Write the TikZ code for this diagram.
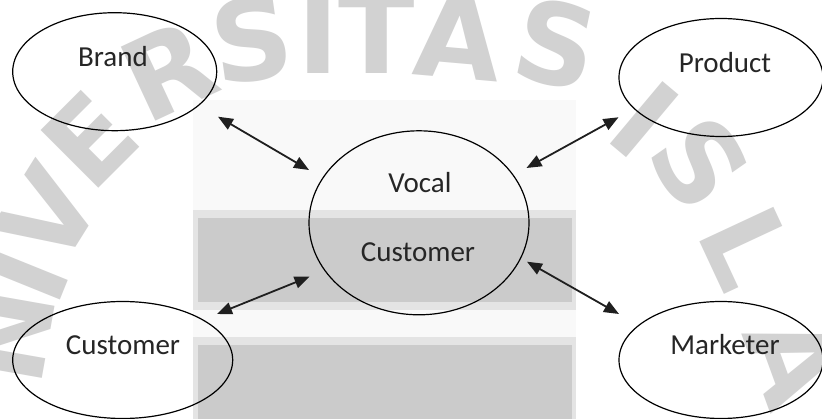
\documentclass[tikz,border=0pt]{standalone}
\usepackage{fontspec}
\setmainfont{Carlito}
\newfontfamily\wmfont{DejaVu Sans}
\usetikzlibrary{shapes.geometric,arrows.meta}
\definecolor{wm}{HTML}{D2D2D2}
\definecolor{bandlight}{HTML}{E4E4E4}
\definecolor{banddark}{HTML}{CBCBCB}
\definecolor{faint}{HTML}{F9F9F9}
\begin{document}
\begin{tikzpicture}[x=1pt,y=-1pt,
  bubble/.style={ellipse,draw=black,line width=1.2pt,inner sep=0pt},
  lbl/.style={font=\fontsize{29}{34}\selectfont,text=black!85,inner sep=0pt},
  link/.style={line width=1.8pt,draw=black!88,{Triangle[length=15pt,width=12pt]}-{Triangle[length=15pt,width=12pt]}},
  wmk/.style={font=\wmfont\bfseries\fontsize{112}{112}\selectfont,text=wm,inner sep=0pt}]
\useasboundingbox (0,0) rectangle (822,419);
\fill[white] (0,0) rectangle (822,419);
\fill[faint] (193,100) rectangle (576,419);
% watermark
\node[wmk,rotate=80] (w1) at (8,335) {N};
\node[wmk,rotate=68] (w2) at (26,275) {I};
\node[wmk,rotate=58] (w3) at (48,215) {V};
\node[wmk,rotate=45] (w4) at (90,140) {E};
\node[wmk,rotate=25] (w5) at (168,70) {R};
\node[wmk,rotate=8] (w6) at (252,40) {S};
\node[wmk] (w7) at (318,33) {I};
\node[wmk] (w8) at (377,33) {T};
\node[wmk,rotate=-5] (w9) at (458,38) {A};
\node[wmk,rotate=-12] (w10) at (556,44) {S};
\node[wmk,rotate=-40] (w11) at (645,120) {I};
\node[wmk,rotate=-55] (w12) at (700,163) {S};
\node[wmk,rotate=-65] (w13) at (748,248) {L};
\node[wmk,rotate=-70] (w14) at (795,360) {A};
% gray bands
\fill[bandlight] (193,210) rectangle (576,310);
\fill[banddark] (198,218) rectangle (572,302);
\fill[bandlight] (193,337) rectangle (576,419);
\fill[banddark] (198,345) rectangle (572,419);
% ellipses
\node[bubble,minimum width=204pt,minimum height=118pt] (brand) at (114.7,71.7) {};
\node[bubble,minimum width=204pt,minimum height=118pt] (product) at (721,77.5) {};
\node[bubble,minimum width=220pt,minimum height=184pt] (vocal) at (419,222.8) {};
\node[bubble,minimum width=220pt,minimum height=117pt] (customer) at (122.7,360) {};
\node[bubble,minimum width=204pt,minimum height=117pt] (marketer) at (721,360) {};
% labels
\node[lbl] (tbrand) at (113,57) {Brand};
\node[lbl] (tproduct) at (725,63) {Product};
\node[lbl] (tvocal) at (420,183) {Vocal};
\node[lbl] (tvcust) at (418,252) {Customer};
\node[lbl] (tcustomer) at (123,345) {Customer};
\node[lbl] (tmarketer) at (725,345) {Marketer};
% arrows
\coordinate (b1) at (218,116.7);
\coordinate (b2) at (309,170);
\coordinate (p1) at (618.5,117.3);
\coordinate (p2) at (526.5,168);
\coordinate (c1) at (217,314);
\coordinate (c2) at (309.5,276.7);
\coordinate (m1) at (527,261.7);
\coordinate (m2) at (619,314);
\draw[link] (b1) -- (b2);
\draw[link] (p1) -- (p2);
\draw[link] (c1) -- (c2);
\draw[link] (m1) -- (m2);
\end{tikzpicture}
\end{document}
